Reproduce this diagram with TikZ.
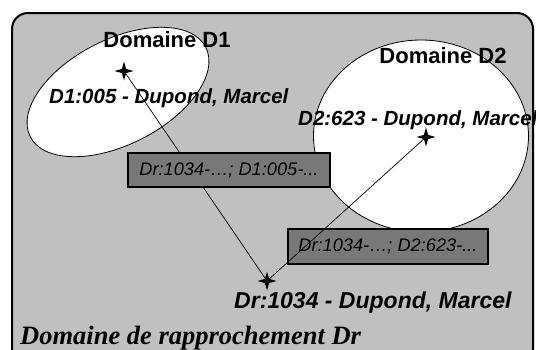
\documentclass[tikz,border=0pt]{standalone}
\usepackage{fontspec}
\setmainfont{Liberation Serif}
\setsansfont{Liberation Sans}
\usetikzlibrary{shapes.geometric}
\definecolor{panelgray}{HTML}{C0C0C0}
\definecolor{tagfill}{HTML}{787878}

\begin{document}
\begin{tikzpicture}[x=1pt,y=-1pt,
  panel/.style={draw=black, line width=2pt, fill=panelgray, rounded corners=16pt},
  domshape/.style={ellipse, draw=black, line width=0.8pt, fill=white, inner sep=0pt},
  mark4/.style={star, star points=4, star point ratio=3.2, fill=black, draw=none,
                inner sep=0pt, minimum size=19pt},
  link/.style={draw=black, line width=0.7pt},
  tag/.style={rectangle, draw=black, line width=1.2pt, fill=tagfill, inner sep=0pt,
              font=\sffamily\itshape\fontsize{18.2}{18.2}\selectfont},
  title/.style={font=\sffamily\bfseries\fontsize{22}{22}\selectfont, inner sep=0pt, anchor=base},
  rec/.style={font=\sffamily\bfseries\itshape\fontsize{20.5}{20.5}\selectfont, inner sep=0pt, anchor=base west},
]
\useasboundingbox (0,0) rectangle (536,349);
\fill[white] (0,0) rectangle (536,349);

% grey panel of the linking domain
\path[panel] (12,13) rectangle (533,365);

% the two source domains
\node[domshape, minimum width=197pt, minimum height=105pt, rotate=27] (dom1) at (118,92) {};
\node[domshape, minimum width=215pt, minimum height=192pt] (dom2) at (421,136) {};

% titles and records
\node[title] (t1) at (167,47) {Domaine D1};
\node[title] (t2) at (443,63) {Domaine D2};
\node[rec] (r1) at (49,103) {D1:005 - Dupond, Marcel};
\node[rec] (r2) at (298,125) {D2:623 - Dupond, Marcel};
\node[rec, font=\sffamily\bfseries\itshape\fontsize{23}{23}\selectfont] (rr) at (234,308) {Dr:1034 - Dupond, Marcel};

% link record in D2
\node[tag, minimum width=200pt, minimum height=35pt] (k2) at (388,246.5) {Dr:1034-…; D2:623-...};

% record markers
\node[mark4] (s1) at (124,71) {};
\node[mark4] (s2) at (426,137) {};
\node[mark4] (sr) at (267,281) {};

% correspondences
\draw[link] (s1.center) -- (sr.center);
\draw[link] (s2.center) -- (sr.center);

% link record in D1
\node[tag, minimum width=202pt, minimum height=34pt] (k1) at (229,170) {Dr:1034-…; D1:005-...};

% name of the linking domain
\node[font=\rmfamily\bfseries\itshape\fontsize{26.5}{26.5}\selectfont, inner sep=0pt, anchor=base west]
  (tr) at (20,344) {Domaine de rapprochement Dr};
\end{tikzpicture}
\end{document}
